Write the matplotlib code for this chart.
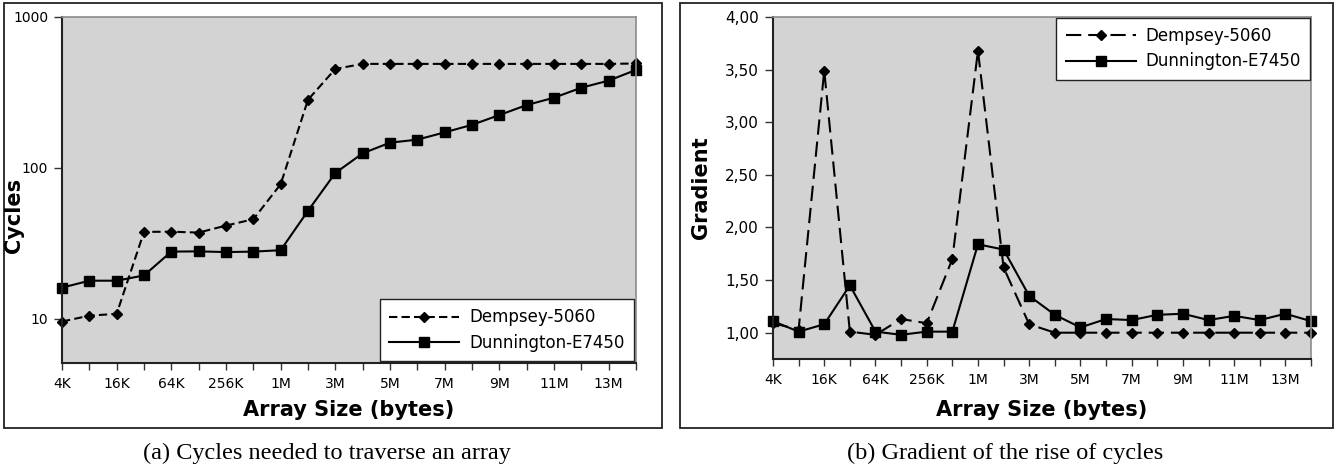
import matplotlib
matplotlib.use("Agg")
import matplotlib.pyplot as plt
from matplotlib.patches import Rectangle
from matplotlib.ticker import FixedLocator, NullLocator

plt.rcParams['font.family'] = 'DejaVu Sans'
plt.rcParams['lines.scale_dashes'] = False

sizes = ['4K', '8K', '16K', '32K', '64K', '128K', '256K', '512K', '1M', '2M',
         '3M', '4M', '5M', '6M', '7M', '8M', '9M', '10M', '11M', '12M', '13M', '14M']

# (a) cycles
dempsey_cycles = [9.6, 10.5, 10.8, 37.7, 37.8, 37.3, 41.5, 45.7, 78, 283,
                  453, 489, 489, 489, 489, 489, 489, 489, 489, 489, 489, 492]
dunnington_cycles = [16.1, 17.9, 17.9, 19.4, 27.9, 28.0, 27.7, 27.9, 28.5, 52,
                     92.6, 125, 147, 154, 172, 193, 224, 261, 292, 340, 379, 446]

# (b) gradient
dempsey_grad = [1.09, 1.03, 3.49, 1.01, 0.98, 1.13, 1.09, 1.70, 3.68, 1.62,
                1.08, 1.00, 1.00, 1.00, 1.00, 1.00, 1.00, 1.00, 1.00, 1.00, 1.00, 1.00]
dunnington_grad = [1.11, 1.01, 1.08, 1.45, 1.01, 0.98, 1.01, 1.01, 1.84, 1.79,
                   1.35, 1.17, 1.05, 1.13, 1.12, 1.17, 1.18, 1.12, 1.16, 1.12, 1.18, 1.11]

W, H = 1343, 467
fig = plt.figure(figsize=(W / 100, H / 100), dpi=100)


def box(x0, y0, x1, y1):
    # pixel coords (top-left origin) -> figure fraction
    return [x0 / W, 1 - y1 / H, (x1 - x0) / W, (y1 - y0) / H]


# outer frames around each panel
for x0, y0, x1, y1 in [(4, 3, 662, 428), (680, 3, 1333, 428)]:
    fig.patches.append(Rectangle((x0 / W, 1 - y1 / H), (x1 - x0) / W, (y1 - y0) / H,
                                 transform=fig.transFigure, fill=False,
                                 edgecolor='#222222', linewidth=1.3))

ax1 = fig.add_axes(box(62, 17, 636, 363))
ax2 = fig.add_axes(box(773, 17, 1311, 359))

xs = list(range(len(sizes)))
xlabels = [s if i % 2 == 0 else '' for i, s in enumerate(sizes)]


def style(ax, ysize):
    ax.set_facecolor('#d3d3d3')
    for side in ['top', 'right']:
        ax.spines[side].set_color('#8c8c8c')
        ax.spines[side].set_linewidth(1.2)
    for side in ['left', 'bottom']:
        ax.spines[side].set_color('#222222')
        ax.spines[side].set_linewidth(1.5)
    ax.set_xlim(0, len(sizes) - 1)
    ax.set_xticks(xs)
    ax.set_xticklabels(xlabels)
    ax.tick_params(axis='x', length=5, width=1, color='#333333', pad=5, labelsize=10)
    ax.tick_params(axis='y', length=6, width=1, color='#333333', pad=4, labelsize=ysize)


def legend(ax, loc, pad):
    leg = ax.legend(loc=loc, fontsize=12, frameon=True, fancybox=False,
                    handlelength=4.2, borderaxespad=pad, labelspacing=0.45,
                    borderpad=0.55, handletextpad=0.6)
    leg.get_frame().set_edgecolor('#222222')
    leg.get_frame().set_linewidth(1.0)
    leg.get_frame().set_alpha(1)


style(ax1, 10)
ax1.set_yscale('log')
ax1.set_ylim(5.1, 1000)
ax1.yaxis.set_major_locator(FixedLocator([10, 100, 1000]))
ax1.yaxis.set_minor_locator(NullLocator())
ax1.set_yticklabels(['10', '100', '1000'])

l1, = ax1.plot(xs, dempsey_cycles, color='black', lw=1.5, marker='D', ms=5,
               label='Dempsey-5060', clip_on=False)
l1.set_dashes((6, 3))
ax1.plot(xs, dunnington_cycles, color='black', lw=1.5, marker='s', ms=7.5,
         label='Dunnington-E7450', clip_on=False)
legend(ax1, 'lower right', 0.12)

style(ax2, 11)
ax2.set_ylim(0.75, 4.0)
ax2.set_yticks([1.0, 1.5, 2.0, 2.5, 3.0, 3.5, 4.0])
ax2.set_yticklabels(['1,00', '1,50', '2,00', '2,50', '3,00', '3,50', '4,00'])

l2, = ax2.plot(xs, dempsey_grad, color='black', lw=1.5, marker='D', ms=5,
               label='Dempsey-5060', clip_on=False)
l2.set_dashes((11, 5))
ax2.plot(xs, dunnington_grad, color='black', lw=1.5, marker='s', ms=7.5,
         label='Dunnington-E7450', clip_on=False)
legend(ax2, 'upper right', 0.05)

# axis titles
lab = dict(fontsize=15, fontweight='bold', ha='center', va='center')
fig.text(14 / W, 1 - 215 / H, 'Cycles', rotation=90, **lab)
fig.text(701 / W, 1 - 188 / H, 'Gradient', rotation=90, **lab)
fig.text(349 / W, 1 - 410 / H, 'Array Size (bytes)', **lab)
fig.text(1042 / W, 1 - 410 / H, 'Array Size (bytes)', **lab)

# captions
cap = dict(fontsize=17.5, family='Liberation Serif', ha='center', va='center')
fig.text(327 / W, 1 - 453 / H, '(a) Cycles needed to traverse an array', **cap)
fig.text(1005 / W, 1 - 453 / H, '(b) Gradient of the rise of cycles', **cap)

fig.savefig('out.png', dpi=100)
